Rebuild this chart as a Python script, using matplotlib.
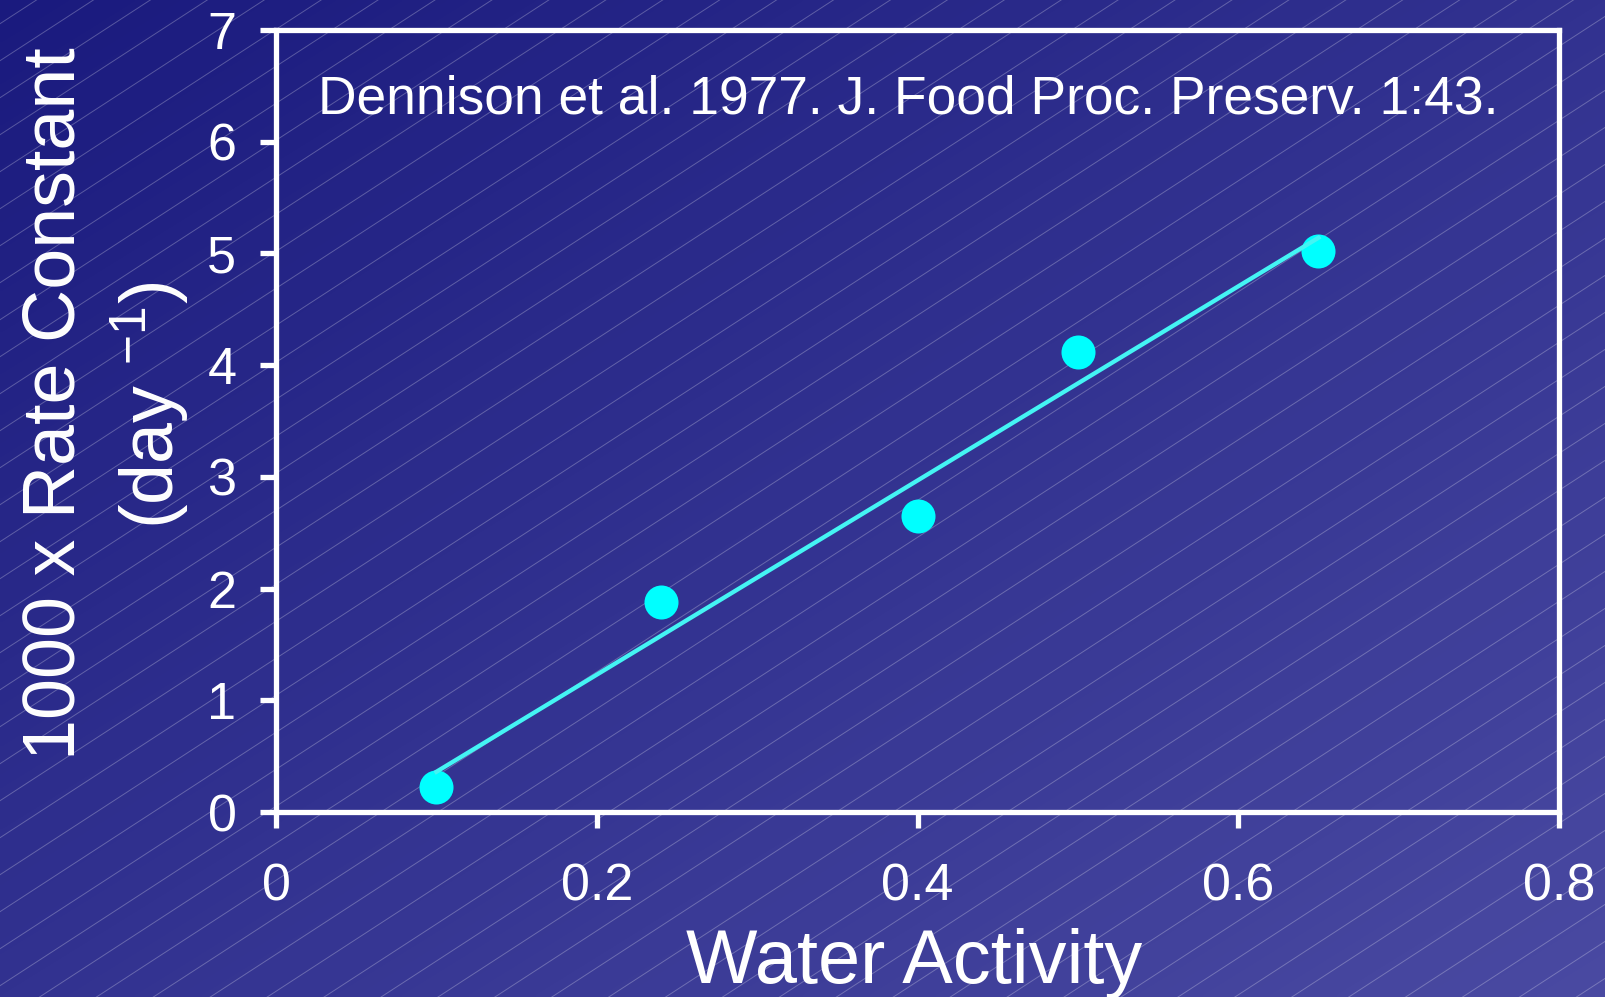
import numpy as np
import matplotlib
matplotlib.use("Agg")
import matplotlib.pyplot as plt

plt.rcParams['font.family'] = ['Liberation Sans', 'DejaVu Sans']
plt.rcParams['mathtext.fontset'] = 'custom'
plt.rcParams['mathtext.rm'] = 'Liberation Sans'
plt.rcParams['mathtext.it'] = 'Liberation Sans:italic'
plt.rcParams['mathtext.default'] = 'regular'

# Rate constant vs. water activity
water_activity = [0.10, 0.24, 0.40, 0.50, 0.65]
rate_constant = [0.22, 1.88, 2.65, 4.12, 5.02]

# Least-squares line endpoints
fit_x = [0.10, 0.65]
fit_y = [0.36, 5.14]

x_ticks = [0, 0.2, 0.4, 0.6, 0.8]
x_tick_labels = ["0", "0.2", "0.4", "0.6", "0.8"]
y_ticks = [0, 1, 2, 3, 4, 5, 6, 7]
y_tick_labels = ["0", "1", "2", "3", "4", "5", "6", "7"]

citation = "Dennison et al. 1977. J. Food Proc. Preserv. 1:43."

W, H = 1606, 997
fig = plt.figure(figsize=(W / 100, H / 100), dpi=100)

# Diagonal gradient backdrop with fine hatch lines
bg = fig.add_axes([0, 0, 1, 1], zorder=0)
bg.set_axis_off()
gx, gy = np.meshgrid(np.linspace(0, 1, 400), np.linspace(0, 1, 250))
t = (gx + gy) / 2
c0 = np.array([26, 26, 126]) / 255
c1 = np.array([74, 74, 162]) / 255
img = c0[None, None, :] + t[..., None] * (c1 - c0)[None, None, :]
bg.imshow(img, extent=[0, W, H, 0], aspect='auto', interpolation='bilinear')
slope = 0.65
spacing = 37.0
offset = 23.7
for c in np.arange(offset, H + slope * W + spacing, spacing):
    xs = np.array([0, W])
    bg.plot(xs, c - slope * xs, color='white', alpha=0.26, lw=0.7)
bg.set_xlim(0, W)
bg.set_ylim(H, 0)

# Main plotting area
left, right, top, bottom = 276, 1559, 30, 812
ax = fig.add_axes([left / W, 1 - bottom / H, (right - left) / W, (bottom - top) / H], zorder=2)
ax.set_facecolor('none')
ax.plot(water_activity, rate_constant, 'o', color='#00ffff', markersize=24.5,
        markeredgewidth=0, zorder=3)
ax.plot(fit_x, fit_y, '-', color='#44f4f4', lw=3.1, zorder=4)

ax.set_xlim(0, 0.8)
ax.set_ylim(0, 7)
ax.set_xticks(x_ticks)
ax.set_xticklabels(x_tick_labels)
ax.set_yticks(y_ticks)
ax.set_yticklabels(y_tick_labels)
for s in ax.spines.values():
    s.set_color('white')
    s.set_linewidth(3.8)
ax.tick_params(axis='both', direction='out', length=11.5, width=3.8, color='white',
               labelcolor='white', labelsize=37.5)
ax.tick_params(axis='x', pad=25)
ax.tick_params(axis='y', pad=17)

# Citation
fig.text(318 / W, 1 - 114 / H, citation, fontsize=38.4,
         color='white', ha='left', va='baseline', zorder=5)

# Axis titles
fig.text(914 / W, 1 - 983 / H, "Water Activity", fontsize=54.5, color='white',
         ha='center', va='baseline')
fig.text(75 / W, 1 - 403.5 / H, "1000 x Rate Constant", fontsize=53, color='white',
         rotation=90, rotation_mode='anchor', ha='center', va='baseline')
fig.text(174 / W, 1 - 405 / H, "(day $^{\u22121}$)", fontsize=53, color='white',
         rotation=90, rotation_mode='anchor', ha='center', va='baseline')

fig.savefig("out.png", dpi=100)
